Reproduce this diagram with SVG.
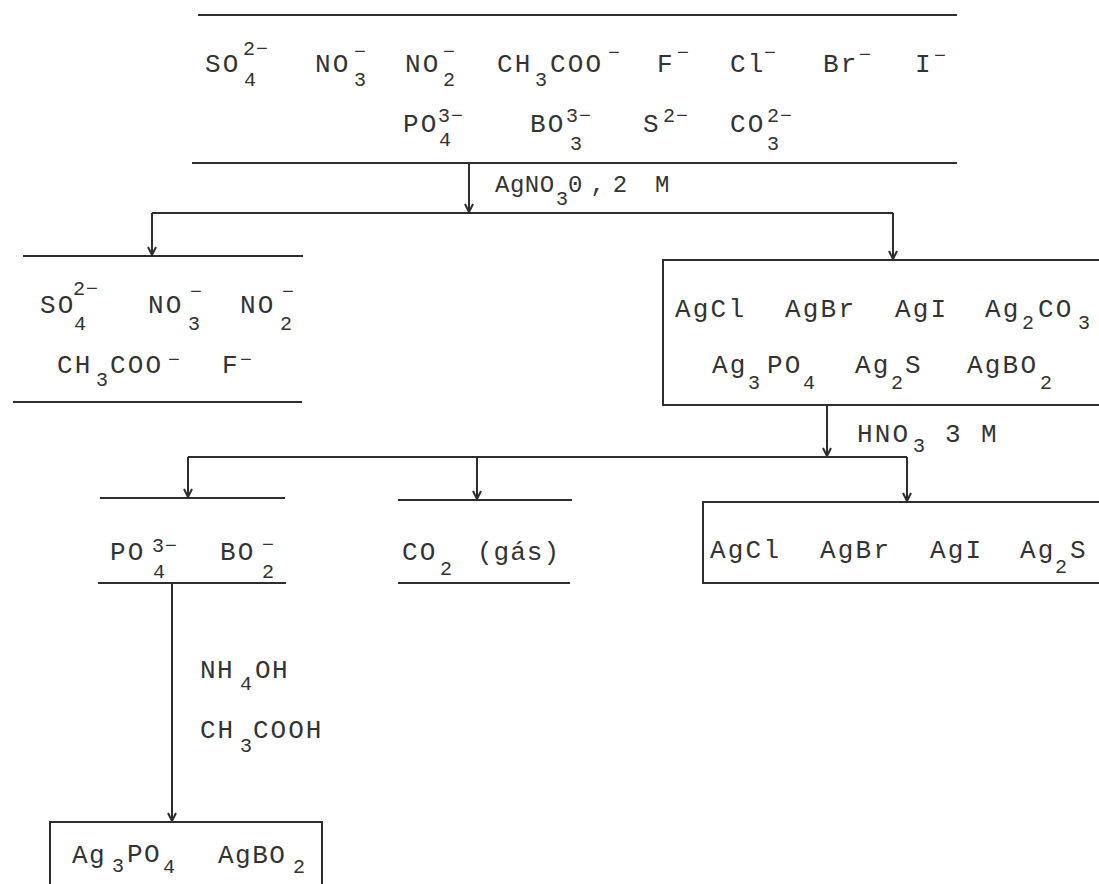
<svg xmlns="http://www.w3.org/2000/svg" width="1099" height="884" viewBox="0 0 1099 884">
<style>
.bg{fill:#ffffff}
.ln{stroke:#2e2e2e;stroke-width:2;fill:none}
.t{font-family:"Liberation Mono","DejaVu Sans Mono",monospace;font-size:26px;letter-spacing:2.2px;fill:#333}
.s{font-size:20px;letter-spacing:1px}
</style>
<defs>
<marker id="ah" viewBox="-10 -6 12 12" refX="0" refY="0" markerWidth="12" markerHeight="12" orient="auto" markerUnits="userSpaceOnUse">
<path d="M-8,-4 L0,0 L-8,4" fill="none" stroke="#2e2e2e" stroke-width="2"/>
</marker>
</defs>
<rect class="bg" x="0" y="0" width="1099" height="884"/>

<g id="connectors">
<line class="ln" x1="469" y1="163" x2="469" y2="212" marker-end="url(#ah)"/>
<line class="ln" x1="152" y1="213" x2="893" y2="213"/>
<line class="ln" x1="152" y1="213" x2="152" y2="255" marker-end="url(#ah)"/>
<line class="ln" x1="893" y1="213" x2="893" y2="259" marker-end="url(#ah)"/>
<line class="ln" x1="827" y1="405" x2="827" y2="456" marker-end="url(#ah)"/>
<line class="ln" x1="188" y1="457" x2="907" y2="457"/>
<line class="ln" x1="188" y1="457" x2="188" y2="497" marker-end="url(#ah)"/>
<line class="ln" x1="477" y1="457" x2="477" y2="499" marker-end="url(#ah)"/>
<line class="ln" x1="907" y1="457" x2="907" y2="501" marker-end="url(#ah)"/>
<line class="ln" x1="172" y1="583" x2="172" y2="821" marker-end="url(#ah)"/>
</g>

<g id="node-start">
<line class="ln" x1="198" y1="15" x2="957" y2="15"/>
<line class="ln" x1="192" y1="163" x2="957" y2="163"/>
<text class="t" x="205" y="72">SO<tspan class="s" x="244" y="86">4</tspan><tspan class="s" x="243" y="55">2−</tspan></text>
<text class="t" x="315" y="72">NO<tspan class="s" x="354" y="86">3</tspan><tspan class="s" x="354" y="58">−</tspan></text>
<text class="t" x="405" y="72">NO<tspan class="s" x="443" y="86">2</tspan><tspan class="s" x="443" y="58">−</tspan></text>
<text class="t" x="497" y="72">CH<tspan class="s" x="535" y="86">3</tspan><tspan x="550" y="72">COO</tspan><tspan class="s" x="608" y="59">−</tspan></text>
<text class="t" x="657" y="72">F<tspan class="s" x="677" y="59">−</tspan></text>
<text class="t" x="730" y="72">Cl<tspan class="s" x="764" y="59">−</tspan></text>
<text class="t" x="823" y="72">Br<tspan class="s" x="859" y="61">−</tspan></text>
<text class="t" x="915" y="72">I<tspan class="s" x="934" y="62">−</tspan></text>
<text class="t" x="403" y="132">PO<tspan class="s" x="439" y="146">4</tspan><tspan class="s" x="438" y="122">3−</tspan></text>
<text class="t" x="530" y="132">BO<tspan class="s" x="570" y="150">3</tspan><tspan class="s" x="566" y="122">3−</tspan></text>
<text class="t" x="643" y="132">S<tspan class="s" x="663" y="122">2−</tspan></text>
<text class="t" x="730" y="132">CO<tspan class="s" x="767" y="150">3</tspan><tspan class="s" x="767" y="122">2−</tspan></text>
</g>

<g id="label-agno3">
<text class="t" x="495" y="192" style="font-size:24px;letter-spacing:0.5px">AgNO<tspan class="s" x="556" y="205">3</tspan><tspan x="568" y="192" style="letter-spacing:8px">0,2</tspan><tspan x="655" y="192">M</tspan></text>
</g>

<g id="node-soluble">
<line class="ln" x1="23" y1="256" x2="303" y2="256"/>
<line class="ln" x1="13" y1="402" x2="302" y2="402"/>
<text class="t" x="40" y="313">SO<tspan class="s" x="74" y="330">4</tspan><tspan class="s" x="73" y="295">2−</tspan></text>
<text class="t" x="148" y="313">NO<tspan class="s" x="188" y="330">3</tspan><tspan class="s" x="190" y="298">−</tspan></text>
<text class="t" x="240" y="313">NO<tspan class="s" x="280" y="330">2</tspan><tspan class="s" x="282" y="298">−</tspan></text>
<text class="t" x="57" y="373">CH<tspan class="s" x="96" y="386">3</tspan><tspan x="110" y="373">COO</tspan><tspan class="s" x="168" y="366">−</tspan></text>
<text class="t" x="222" y="373">F<tspan class="s" x="240" y="366">−</tspan></text>
</g>

<g id="node-precipitate">
<path class="ln" d="M1100,260 H663 V405 H1100"/>
<text class="t" x="675" y="317">AgCl</text>
<text class="t" x="785" y="317">AgBr</text>
<text class="t" x="895" y="317">AgI</text>
<text class="t" x="985" y="317">Ag<tspan class="s" x="1022" y="329">2</tspan><tspan x="1038" y="317">CO</tspan><tspan class="s" x="1078" y="329">3</tspan></text>
<text class="t" x="712" y="373">Ag<tspan class="s" x="748" y="389">3</tspan><tspan x="767" y="373">PO</tspan><tspan class="s" x="803" y="389">4</tspan></text>
<text class="t" x="855" y="373">Ag<tspan class="s" x="891" y="389">2</tspan><tspan x="905" y="373">S</tspan></text>
<text class="t" x="967" y="373">AgBO<tspan class="s" x="1040" y="389">2</tspan></text>
</g>

<g id="label-hno3">
<text class="t" x="857" y="442">HNO<tspan class="s" x="913" y="452">3</tspan><tspan x="945" y="442">3</tspan><tspan x="981" y="442">M</tspan></text>
</g>

<g id="node-po4-bo2">
<line class="ln" x1="100" y1="498" x2="285" y2="498"/>
<line class="ln" x1="98" y1="583" x2="286" y2="583"/>
<text class="t" x="110" y="560">PO<tspan class="s" x="153" y="578">4</tspan><tspan class="s" x="152" y="552">3−</tspan></text>
<text class="t" x="220" y="560">BO<tspan class="s" x="262" y="578">2</tspan><tspan class="s" x="262" y="551">−</tspan></text>
</g>

<g id="node-co2">
<line class="ln" x1="398" y1="500" x2="572" y2="500"/>
<line class="ln" x1="398" y1="583" x2="570" y2="583"/>
<text class="t" x="402" y="560">CO<tspan class="s" x="440" y="575">2</tspan><tspan x="477" y="560" style="letter-spacing:1px">(gás)</tspan></text>
</g>

<g id="node-insoluble">
<path class="ln" d="M1100,502 H703 V583 H1100"/>
<text class="t" x="710" y="558">AgCl</text>
<text class="t" x="820" y="558">AgBr</text>
<text class="t" x="930" y="558">AgI</text>
<text class="t" x="1020" y="558">Ag<tspan class="s" x="1055" y="573">2</tspan><tspan x="1070" y="558">S</tspan></text>
</g>

<g id="label-reagents">
<text class="t" x="200" y="678" style="letter-spacing:1.5px">NH<tspan class="s" x="240" y="690">4</tspan><tspan x="255" y="678">OH</tspan></text>
<text class="t" x="200" y="738" style="letter-spacing:2px">CH<tspan class="s" x="240" y="752">3</tspan><tspan x="253" y="738">COOH</tspan></text>
</g>

<g id="node-final">
<path class="ln" d="M50,885 V822 H322 V885"/>
<text class="t" x="72" y="863" style="letter-spacing:1.5px">Ag<tspan class="s" x="112" y="872">3</tspan><tspan x="127" y="862">PO</tspan><tspan class="s" x="163" y="873">4</tspan><tspan x="218" y="863">AgBO</tspan><tspan class="s" x="293" y="873">2</tspan></text>
</g>
</svg>
